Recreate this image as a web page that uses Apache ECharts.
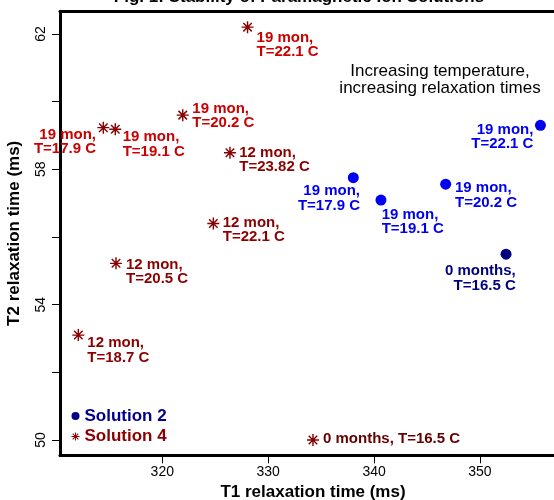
<!DOCTYPE html>
<html><head><meta charset="utf-8">
<script src="https://cdn.jsdelivr.net/npm/echarts@6/dist/echarts.min.js"></script>
<style>html,body{margin:0;padding:0;background:#fff}#c{width:554px;height:500px}</style>
</head><body><div id="c"></div>
<script>
// ---- data ----
const sol2T1 = [355.71, 338.04, 340.65, 346.76, 352.46];
const sol2T2 = [59.30, 57.75, 57.09, 57.56, 55.49];
const sol2Months = [19, 19, 19, 19, 0];
const sol2Labels = ['19 mon,\nT=22.1 C', '19 mon,\nT=17.9 C', '19 mon,\nT=19.1 C', '19 mon,\nT=20.2 C', '0 months,\nT=16.5 C'];

const sol4T1 = [328.05, 314.43, 315.56, 321.93, 326.39, 324.82, 315.63, 312.07, 334.23];
const sol4T2 = [62.20, 59.23, 59.18, 59.60, 58.49, 56.40, 55.22, 53.10, 50.00];
const sol4Months = [19, 19, 19, 19, 12, 12, 12, 12, 0];
const sol4Labels = ['19 mon,\nT=22.1 C', '19 mon,\nT=17.9 C', '19 mon,\nT=19.1 C', '19 mon,\nT=20.2 C',
  '12 mon,\nT=23.82 C', '12 mon,\nT=22.1 C', '12 mon,\nT=20.5 C', '12 mon,\nT=18.7 C', '0 months, T=16.5 C'];

const seriesNames = ['Solution 2', 'Solution 4'];
const xTicks = [320, 330, 340, 350];
const yTicks = [50, 52, 54, 56, 58, 60, 62];
const yTickLabels = [50, 54, 58, 62];
const titleText = 'Fig. 1: Stability of Paramagnetic Ion Solutions';
const noteText = 'Increasing temperature,\nincreasing relaxation times';
const xName = 'T1 relaxation time (ms)';
const yName = 'T2 relaxation time (ms)';

// ---- layout / style (not data) ----
const FONT = '"Liberation Sans", Arial, Helvetica, sans-serif';
const ASTER = 'path://M-1.2,-10L1.2,-10L1.2,10L-1.2,10Z M-10,-1.2L10,-1.2L10,1.2L-10,1.2Z M6.222,-7.92L7.92,-6.222L-6.222,7.92L-7.92,6.222Z M-6.222,-7.92L7.92,6.222L6.222,7.92L-7.92,-6.222Z';
const DOT_SIZE = 11, STAR_SIZE = 12;
// [align, dx, dy] label anchor offsets from the point
const sol2Place = [['right', -7, -2.9], ['right', 6.7, 6.1], ['left', 0.7, 7.1], ['left', 9.3, -3.5], ['right', 9.7, 9.5]];
const sol4Place = [['left', 9, 3], ['right', -7.3, -0.3], ['left', 7.4, 0.5], ['left', 9.6, -13.6], ['left', 9.3, -7.3],
  ['left', 9.4, -7.9], ['left', 10, -5.9], ['left', 9, 0.8], ['left', 10, -7.9]];
const sol2Color = m => m === 0 ? '#000080' : '#0000F0';
const sol4LabelColor = m => m === 19 ? '#CC0000' : (m === 12 ? '#8B0000' : '#660000');

function mkLabel(text, place, size, color) {
  return {
    show: true, formatter: text, position: [size / 2 + place[1], size / 2 + place[2]],
    align: place[0], verticalAlign: 'top', color: color, opacity: 1, fontFamily: FONT, fontWeight: 'bold',
    fontSize: 15, lineHeight: 14.5, textBorderWidth: 0
  };
}

const sol2Data = sol2T1.map((x, i) => ({
  value: [x, sol2T2[i]],
  itemStyle: { color: sol2Color(sol2Months[i]), opacity: 1 },
  label: mkLabel(sol2Labels[i], sol2Place[i], DOT_SIZE, sol2Color(sol2Months[i]))
}));
const sol4Data = sol4T1.map((x, i) => ({
  value: [x, sol4T2[i]],
  label: mkLabel(sol4Labels[i], sol4Place[i], STAR_SIZE, sol4LabelColor(sol4Months[i]))
}));

const chart = echarts.init(document.getElementById('c'), null, { renderer: 'canvas' });
const axisLineStyle = { color: '#000', width: 3 };
chart.setOption({
  animation: false,
  backgroundColor: '#fff',
  title: {
    text: titleText, left: 299, top: -11, padding: 0, textAlign: 'center',
    textStyle: { fontFamily: FONT, fontWeight: 'bold', fontSize: 17, color: '#000' }
  },
  graphic: [{
    type: 'text', x: 440, y: 63, silent: true,
    style: { text: noteText, font: '17px ' + FONT, fill: '#000', textAlign: 'center', textVerticalAlign: 'top', lineHeight: 17 }
  }],
  legend: {
    orient: 'vertical', left: 71.5, top: 407.5, padding: 0, itemWidth: 8, itemHeight: 8, itemGap: 3.5,
    selectedMode: false,
    textStyle: { fontFamily: FONT, fontWeight: 'bold', fontSize: 17, lineHeight: 17 },
    data: [
      { name: seriesNames[0], icon: 'circle', itemStyle: { color: '#00008B', opacity: 1 }, textStyle: { color: '#00008B' } },
      { name: seriesNames[1], icon: ASTER, itemStyle: { color: '#8B0000', opacity: 1 }, textStyle: { color: '#8B0000' } }
    ]
  },
  grid: { left: 60, right: 0, top: 11.3, bottom: 44.7, containLabel: false, outerBoundsMode: 'none' },
  xAxis: [{
    type: 'value', min: 310.34, max: 356.99, position: 'bottom',
    name: xName, nameLocation: 'middle', nameGap: 27,
    nameTextStyle: { fontFamily: FONT, fontWeight: 'bold', fontSize: 17, lineHeight: 17, color: '#000', padding: [0, 0, 0, 12] },
    axisLine: { show: true, lineStyle: axisLineStyle },
    axisTick: { show: true, length: 8, lineStyle: { color: '#000', width: 1 }, customValues: xTicks },
    axisLabel: { show: true, margin: 10, fontFamily: FONT, fontSize: 14, color: '#000', customValues: xTicks },
    splitLine: { show: false }
  }, {
    type: 'value', min: 310.34, max: 356.99, position: 'top',
    axisLine: { show: true, lineStyle: axisLineStyle },
    axisTick: { show: false }, axisLabel: { show: false }, splitLine: { show: false }
  }],
  yAxis: {
    type: 'value', min: 49.548, max: 62.668,
    name: yName, nameLocation: 'middle', nameGap: 37,
    nameTextStyle: { fontFamily: FONT, fontWeight: 'bold', fontSize: 17, lineHeight: 17, color: '#000' },
    axisLine: { show: true, lineStyle: axisLineStyle },
    axisTick: { show: true, length: 8, lineStyle: { color: '#000', width: 1 }, customValues: yTicks },
    axisLabel: { show: true, rotate: 90, margin: 12, fontFamily: FONT, fontSize: 14, lineHeight: 14, color: '#000', customValues: yTickLabels },
    splitLine: { show: false }
  },
  series: [{
    name: seriesNames[0], type: 'scatter', symbol: 'circle', symbolSize: DOT_SIZE,
    itemStyle: { color: '#000080', opacity: 1 }, emphasis: { disabled: true }, data: sol2Data, z: 3
  }, {
    name: seriesNames[1], type: 'scatter', symbol: ASTER, symbolSize: STAR_SIZE,
    itemStyle: { color: '#8B0000', opacity: 1 }, emphasis: { disabled: true }, data: sol4Data, z: 3
  }]
});
</script></body></html>
